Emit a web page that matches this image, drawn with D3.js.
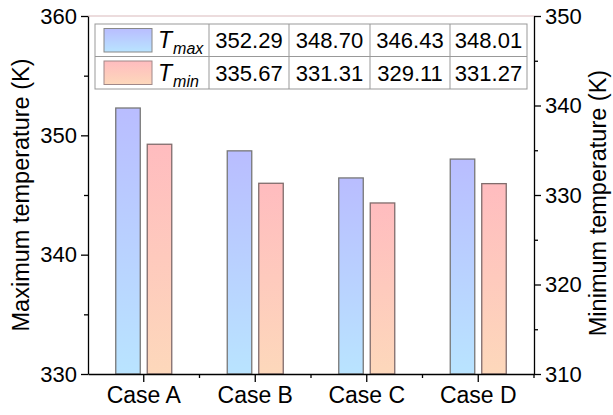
<!DOCTYPE html>
<html>
<head>
<meta charset="utf-8">
<script src="https://cdn.jsdelivr.net/npm/d3@7"></script>
<style>
  body { margin: 0; background: #fff; }
  svg { font-family: "Liberation Sans", Arial, sans-serif; }
</style>
</head>
<body>
<svg id="chart" width="613" height="415"></svg>
<script>
const cases = ["Case A", "Case B", "Case C", "Case D"];
const tmax = [352.29, 348.70, 346.43, 348.01];
const tmin = [335.67, 331.31, 329.11, 331.27];
const leftTicks = [330, 340, 350, 360];
const rightTicks = [310, 320, 330, 340, 350];

const svg = d3.select("#chart");
const pLeft = 88, pRight = 534, pTop = 16, pBottom = 374;
const fs = 22;

const x = d3.scaleBand().domain(cases).range([pLeft, pRight]).padding(0);
const sub = d3.scaleBand().domain(["max", "min"]).range([-28, 28]).paddingInner(0.222);
const yL = d3.scaleLinear().domain([330, 360]).range([pBottom, pTop]);
const yR = d3.scaleLinear().domain([310, 350]).range([pBottom, pTop]);

// gradients
const defs = svg.append("defs");
function grad(id, c0, c1) {
  const g = defs.append("linearGradient").attr("id", id)
    .attr("x1", 0).attr("y1", 0).attr("x2", 0).attr("y2", 1);
  g.append("stop").attr("offset", "0%").attr("stop-color", c0);
  g.append("stop").attr("offset", "100%").attr("stop-color", c1);
}
grad("gMax", "#b9bdff", "#b9e4ff");
grad("gMin", "#ffbcbf", "#fdd8bb");

// bars
const rows = cases.map((c, i) => ({ c, max: tmax[i], min: tmin[i] }));
svg.append("g").selectAll("rect").data(rows).join("rect")
  .attr("x", d => x(d.c) + x.bandwidth() / 2 + sub("max"))
  .attr("y", d => yL(d.max))
  .attr("width", sub.bandwidth())
  .attr("height", d => pBottom - yL(d.max))
  .attr("fill", "url(#gMax)")
  .attr("stroke", "#777").attr("stroke-width", 1.3);
svg.append("g").selectAll("rect").data(rows).join("rect")
  .attr("x", d => x(d.c) + x.bandwidth() / 2 + sub("min"))
  .attr("y", d => yR(d.min))
  .attr("width", sub.bandwidth())
  .attr("height", d => pBottom - yR(d.min))
  .attr("fill", "url(#gMin)")
  .attr("stroke", "#806c6c").attr("stroke-width", 1.3);

// top frame line
svg.append("line").attr("x1", pLeft).attr("x2", pRight).attr("y1", pTop).attr("y2", pTop)
  .attr("stroke", "#d9b9bb").attr("stroke-width", 1.2);

// axes
function styleAxis(g, size = fs) {
  g.select(".domain").attr("stroke", "#000").attr("stroke-width", 1.3);
  g.selectAll(".tick line").attr("stroke", "#000").attr("stroke-width", 1.3);
  g.selectAll("text").attr("font-size", size).attr("fill", "#000")
    .attr("font-family", "Liberation Sans, Arial, sans-serif");
}
const minorL = d3.range(335, 360, 10);
const minorR = d3.range(315, 350, 10);

svg.append("g").attr("transform", `translate(${pLeft},0)`)
  .call(d3.axisLeft(yL).tickValues(minorL).tickSize(4).tickFormat(""))
  .call(g => { styleAxis(g); g.select(".domain").remove(); });
svg.append("g").attr("transform", `translate(${pLeft},0)`)
  .call(d3.axisLeft(yL).tickValues(leftTicks).tickSizeInner(7).tickSizeOuter(0).tickPadding(4))
  .call(styleAxis);

svg.append("g").attr("transform", `translate(${pRight},0)`)
  .call(d3.axisRight(yR).tickValues(minorR).tickSize(4).tickFormat(""))
  .call(g => { styleAxis(g); g.select(".domain").remove(); });
svg.append("g").attr("transform", `translate(${pRight},0)`)
  .call(d3.axisRight(yR).tickValues(rightTicks).tickSizeInner(7).tickSizeOuter(0).tickPadding(4))
  .call(styleAxis);

svg.append("g").attr("transform", `translate(0,${pBottom})`)
  .call(d3.axisBottom(x).tickSizeInner(8).tickSizeOuter(0).tickPadding(5))
  .call(g => styleAxis(g, 23));
// minor x ticks at band boundaries
svg.append("g").selectAll("line").data(cases).join("line")
  .attr("x1", d => x(d) + x.bandwidth()).attr("x2", d => x(d) + x.bandwidth())
  .attr("y1", pBottom).attr("y2", pBottom + 4)
  .attr("stroke", "#000").attr("stroke-width", 1.3);

// axis titles
svg.append("text").attr("transform", `translate(29,${(pTop + pBottom) / 2}) rotate(-90)`)
  .attr("text-anchor", "middle").attr("font-size", 23.5).text("Maximum temperature (K)");
svg.append("text").attr("transform", `translate(606,203) rotate(-90)`)
  .attr("text-anchor", "middle").attr("font-size", 23.5).text("Minimum temperature (K)");

// legend table
const colEdges = [95, 209, 289, 370, 450, 527];
const rowEdges = [24, 56.5, 89];
const tbl = svg.append("g");
tbl.append("rect").attr("x", colEdges[0]).attr("y", rowEdges[0])
  .attr("width", colEdges[5] - colEdges[0]).attr("height", rowEdges[2] - rowEdges[0])
  .attr("fill", "#fff").attr("stroke", "#999").attr("stroke-width", 1);
tbl.append("line").attr("x1", colEdges[0]).attr("x2", colEdges[5])
  .attr("y1", rowEdges[1]).attr("y2", rowEdges[1]).attr("stroke", "#999");
tbl.selectAll("line.col").data(colEdges.slice(1, 5)).join("line").attr("class", "col")
  .attr("x1", d => d).attr("x2", d => d).attr("y1", rowEdges[0]).attr("y2", rowEdges[2])
  .attr("stroke", "#999");

const series = [
  { sub: "max", vals: tmax, fill: "url(#gMax)", stroke: "#888" },
  { sub: "min", vals: tmin, fill: "url(#gMin)", stroke: "#a08888" }
];
series.forEach((s, r) => {
  const y0 = rowEdges[r], y1 = rowEdges[r + 1];
  tbl.append("rect").attr("x", 104).attr("y", y0 + 4.5).attr("width", 48).attr("height", y1 - y0 - 9)
    .attr("fill", s.fill).attr("stroke", s.stroke).attr("stroke-width", 1);
  const t = tbl.append("text").attr("x", 158).attr("y", y0 + 24).attr("font-size", 23)
    .attr("font-style", "italic");
  t.append("tspan").text("T");
  t.append("tspan").attr("font-size", 16).attr("dy", 6).attr("dx", 1).text(s.sub);
  tbl.selectAll(null).data(s.vals).join("text")
    .attr("x", (d, i) => (colEdges[i + 1] + colEdges[i + 2]) / 2)
    .attr("y", y0 + 24).attr("text-anchor", "middle").attr("font-size", fs)
    .text(d => d.toFixed(2));
});
</script>
</body>
</html>
